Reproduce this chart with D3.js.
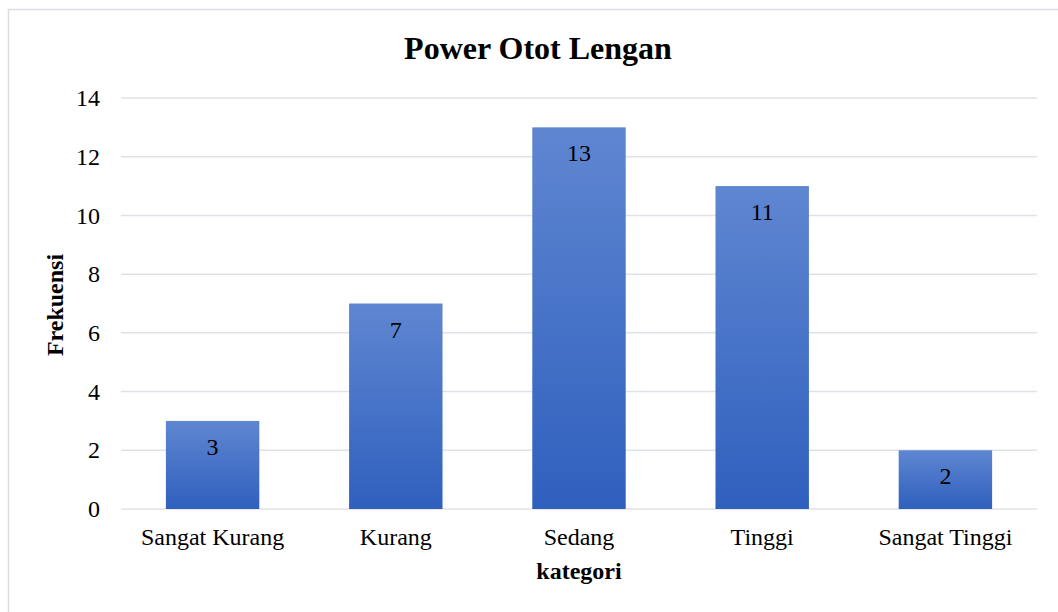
<!DOCTYPE html>
<html>
<head>
<meta charset="utf-8">
<script src="https://cdn.jsdelivr.net/npm/d3@7"></script>
<style>
  body { margin: 0; background: #fff; }
  text { font-family: "Liberation Serif", "Times New Roman", serif; fill: #000; }
</style>
</head>
<body>
<svg id="chart" width="1058" height="612"></svg>
<script>
"use strict";

// données
var categories = ["Sangat Kurang", "Kurang", "Sedang", "Tinggi", "Sangat Tinggi"]
var frekuensi = [3, 7, 13, 11, 2]
var yTicks = [0, 2, 4, 6, 8, 10, 12, 14]

var svg = d3.select("#chart")
var margin = { left: 121, right: 1037, top: 98, bottom: 509 }

// cadre du graphique
svg.append("rect")
  .attr("x", 8.5).attr("y", 9.5)
  .attr("width", 1060).attr("height", 620)
  .attr("fill", "#fff")
  .attr("stroke", "#d9dde3")
  .attr("stroke-width", 1.5)

var defs = svg.append("defs")
var grad = defs.append("linearGradient")
  .attr("id", "barGrad")
  .attr("x1", 0).attr("y1", 0).attr("x2", 0).attr("y2", 1)
grad.append("stop").attr("offset", "0%").attr("stop-color", "#5f86d1")
grad.append("stop").attr("offset", "100%").attr("stop-color", "#2f60be")

var x = d3.scaleBand()
  .domain(categories)
  .range([margin.left, margin.right])
  .paddingInner(0.49)
  .paddingOuter(0.245)

var y = d3.scaleLinear()
  .domain([0, 14])
  .range([margin.bottom, margin.top])

// lignes de grille
svg.append("g")
  .selectAll("line")
  .data(yTicks)
  .enter()
  .append("line")
    .attr("x1", margin.left)
    .attr("x2", margin.right)
    .attr("y1", function(d) { return y(d) })
    .attr("y2", function(d) { return y(d) })
    .attr("stroke", "#dfe2e7")
    .attr("stroke-width", 1.5)

// axe y (texte seulement)
var yAxis = svg.append("g")
  .attr("transform", "translate(" + 100 + ",0)")
  .call(d3.axisLeft(y).tickValues(yTicks).tickSize(0).tickPadding(0))
yAxis.select(".domain").remove()
yAxis.selectAll("text")
  .attr("font-size", 24)
  .attr("font-family", "Liberation Serif, serif")
  .attr("fill", "#000")

// axe x
var xAxis = svg.append("g")
  .attr("transform", "translate(0," + margin.bottom + ")")
  .call(d3.axisBottom(x).tickSize(0).tickPadding(0))
xAxis.select(".domain").remove()
xAxis.selectAll("text")
  .attr("dy", null)
  .attr("y", 36)
  .attr("font-size", 24)
  .attr("font-family", "Liberation Serif, serif")
  .attr("fill", "#000")

// barres
svg.append("g")
  .selectAll("rect")
  .data(frekuensi)
  .enter()
  .append("rect")
    .attr("x", function(d, i) { return x(categories[i]) })
    .attr("y", function(d) { return y(d) })
    .attr("width", x.bandwidth())
    .attr("height", function(d) { return y(0) - y(d) })
    .attr("fill", "url(#barGrad)")

// étiquettes des valeurs
svg.append("g")
  .selectAll("text")
  .data(frekuensi)
  .enter()
  .append("text")
    .attr("x", function(d, i) { return x(categories[i]) + x.bandwidth() / 2 })
    .attr("y", function(d) { return y(d) + 34 })
    .attr("text-anchor", "middle")
    .attr("font-size", 24)
    .text(function(d) { return d })

// titre
svg.append("text")
  .attr("x", 538).attr("y", 59)
  .attr("text-anchor", "middle")
  .attr("font-size", 32)
  .attr("font-weight", "bold")
  .text("Power Otot Lengan")

svg.append("text")
  .attr("x", 579).attr("y", 579)
  .attr("text-anchor", "middle")
  .attr("font-size", 24)
  .attr("font-weight", "bold")
  .text("kategori")

svg.append("text")
  .attr("transform", "translate(63,305) rotate(-90)")
  .attr("text-anchor", "middle")
  .attr("font-size", 24)
  .attr("font-weight", "bold")
  .text("Frekuensi")
</script>
</body>
</html>
